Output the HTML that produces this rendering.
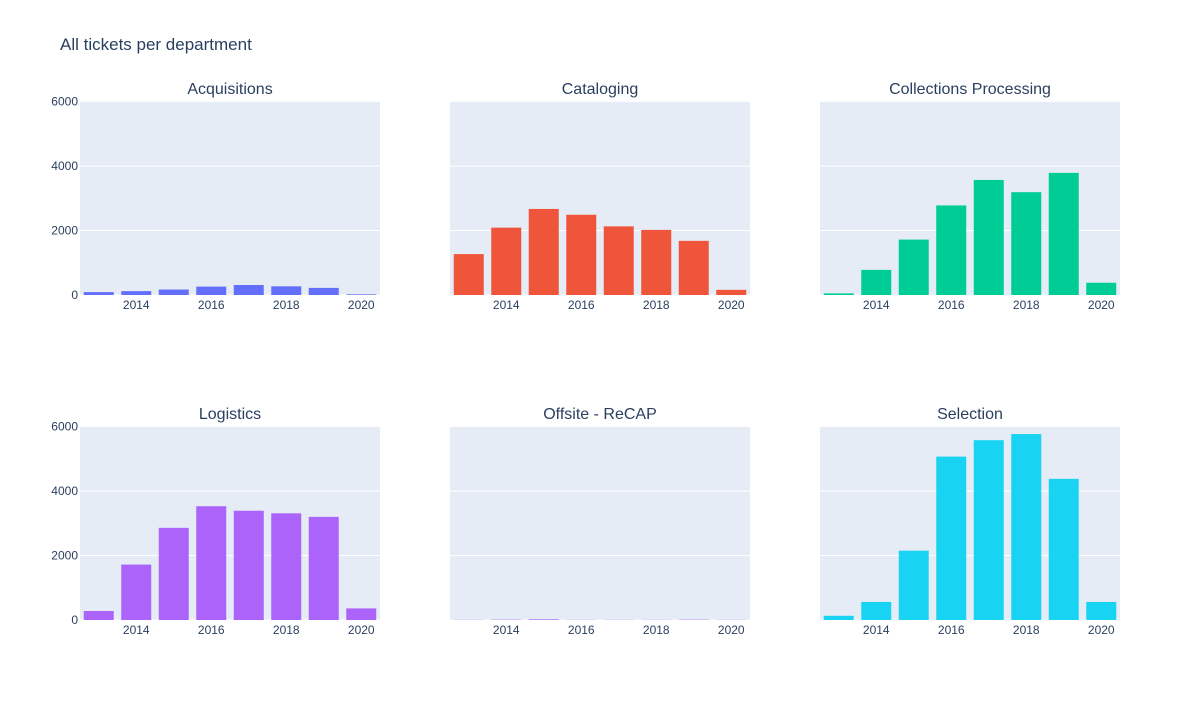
<!DOCTYPE html>
<html><head><meta charset="utf-8"><style>
body{margin:0;background:#fff;}
svg text{font-family:"Liberation Sans",Arial,sans-serif;fill:#2a3f5f;}
</style></head><body>
<svg id="c" width="1200" height="700">
<text x="60" y="50" font-size="17">All tickets per department</text>
</svg>
<script>
const years=[2013,2014,2015,2016,2017,2018,2019,2020];
const departments=["Acquisitions","Cataloging","Collections Processing","Logistics","Offsite - ReCAP","Selection"];
const acquisitions=[90,120,170,260,310,270,220,20];
const cataloging=[1270,2090,2670,2490,2130,2020,1680,160];
const collectionsProcessing=[50,780,1720,2780,3570,3190,3790,380];
const logistics=[280,1720,2860,3530,3390,3310,3200,360];
const offsiteRecap=[5,10,20,5,5,5,10,5];
const selection=[130,560,2150,5070,5580,5770,4380,560];
const yTicks=[0,2000,4000,6000];
const xTicks=[2014,2016,2018,2020];
const series=[acquisitions,cataloging,collectionsProcessing,logistics,offsiteRecap,selection];
const colors=["#636efa","#EF553B","#00cc96","#ab63fa","#ab63fa","#19d3f3"];
const NS="http://www.w3.org/2000/svg";
const svg=document.getElementById("c");
function mk(t,a,p){const e=document.createElementNS(NS,t);for(const k in a)e.setAttribute(k,a[k]);(p||svg).appendChild(e);return e;}
const colX=[80,450,820],rowY=[101,426],W=300,H=194,yMax=6020,xMin=2012.5,xMax=2020.5;
departments.forEach((d,i)=>{
  const c=i%3,r=Math.floor(i/3),x0=colX[c],y0=rowY[r];
  const xs=v=>x0+(v-xMin)/(xMax-xMin)*W;
  const ys=v=>y0+H-v/yMax*H;
  const g=mk("g",{});
  
  
  mk("rect",{x:x0,y:y0,width:W,height:H,fill:"#e5ecf6"},g);
  yTicks.forEach(t=>{
    mk("line",{x1:x0,x2:x0+W,y1:ys(t),y2:ys(t),stroke:"#fff","stroke-width":1},g);
    if(c===0){const tx=mk("text",{x:x0-2,y:ys(t)+4,"font-size":12,"text-anchor":"end"},g);tx.textContent=t;
      }
  });
  const bw=(W/(xMax-xMin))*0.8;
  series[i].forEach((v,j)=>{
    const b=mk("rect",{x:xs(years[j])-bw/2,y:ys(v),width:bw,height:ys(0)-ys(v),fill:colors[i]},g);
    
    
  });
  xTicks.forEach(t=>{const tx=mk("text",{x:xs(t),y:y0+H+14,"font-size":12,"text-anchor":"middle"},g);tx.textContent=t;
    });
  const tt=mk("text",{x:x0+W/2,y:y0-7,"font-size":16,"text-anchor":"middle"},g);tt.textContent=d;
  
});
</script>
</body></html>
